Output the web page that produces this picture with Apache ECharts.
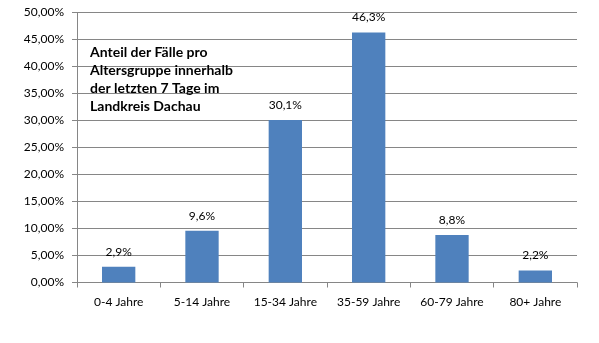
<!DOCTYPE html>
<html>
<head>
<meta charset="utf-8">
<script src="https://cdn.jsdelivr.net/npm/echarts@6/dist/echarts.min.js"></script>
<style>
  html, body { margin: 0; padding: 0; background: #fff; }
  #chart { width: 599px; height: 343px; }
</style>
</head>
<body>
<div id="chart"></div>
<script>
// Age groups and their share of cases (percent) over the last 7 days
const categories = ['0-4 Jahre', '5-14 Jahre', '15-34 Jahre', '35-59 Jahre', '60-79 Jahre', '80+ Jahre'];
const shares = [2.9, 9.6, 30.1, 46.3, 8.8, 2.2];
const titleLines = ['Anteil der Fälle pro', 'Altersgruppe innerhalb', 'der letzten 7 Tage im', 'Landkreis Dachau'];

const font = 'Lato, "Open Sans", sans-serif';
const chart = echarts.init(document.getElementById('chart'), null, { renderer: 'canvas' });

chart.setOption({
  animation: false,
  backgroundColor: '#ffffff',
  title: {
    text: titleLines.join('\n'),
    left: 85,
    top: 38,
    textStyle: { fontFamily: font, fontSize: 14, fontWeight: 'bold', color: '#000', lineHeight: 18 }
  },
  grid: { left: 77, right: 22, top: 12.5, bottom: 60.5, containLabel: false },
  xAxis: {
    type: 'category',
    data: categories,
    axisLine: { lineStyle: { color: '#868686', width: 1 } },
    axisTick: { show: true, length: 5, alignWithLabel: false, lineStyle: { color: '#868686' } },
    axisLabel: { fontFamily: font, fontSize: 12, color: '#000', margin: 14 }
  },
  yAxis: {
    type: 'value',
    min: 0,
    max: 50,
    interval: 5,
    axisLine: { show: true, lineStyle: { color: '#868686', width: 1 } },
    axisTick: { show: true, length: 5, lineStyle: { color: '#868686' } },
    axisLabel: {
      fontFamily: font, fontSize: 12, color: '#000', margin: 13,
      formatter: v => v.toFixed(2).replace('.', ',') + '%'
    },
    splitLine: { show: true, lineStyle: { color: '#868686', width: 1 } }
  },
  series: [{
    type: 'bar',
    data: shares,
    barCategoryGap: '60%',
    itemStyle: { color: '#4F81BD' },
    label: {
      show: true,
      position: 'top',
      distance: 9,
      fontFamily: font, fontSize: 12, color: '#000',
      formatter: p => p.value.toFixed(1).replace('.', ',') + '%'
    }
  }]
});
</script>
</body>
</html>
